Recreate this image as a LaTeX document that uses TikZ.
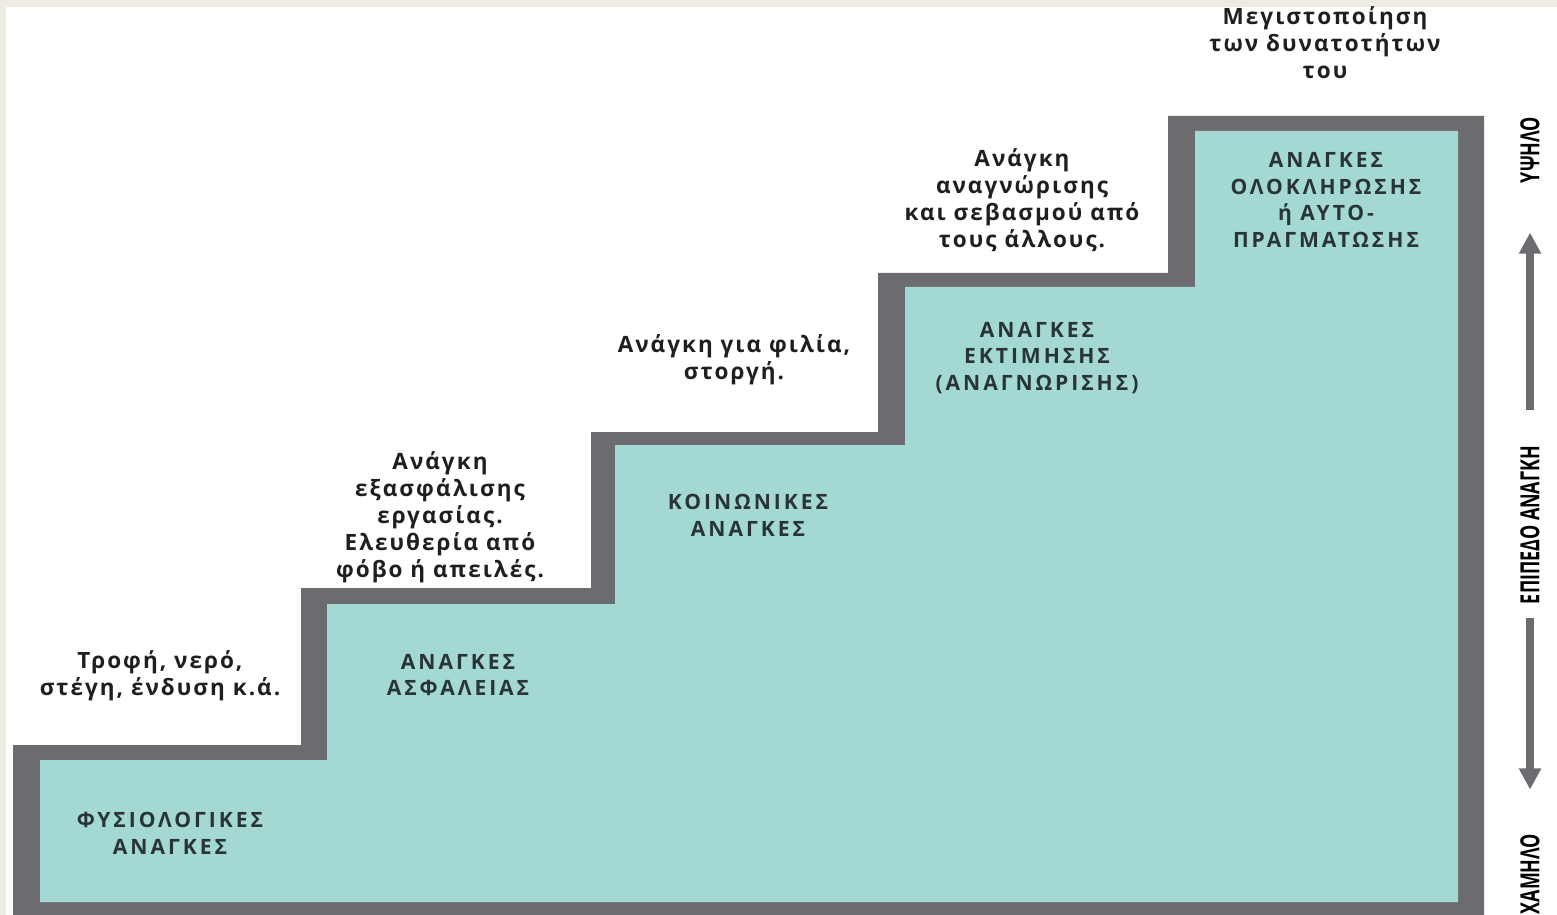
\documentclass[tikz,border=0pt]{standalone}
\usepackage{fontspec}
\usepackage{graphicx}
\usetikzlibrary{arrows.meta}
\setmainfont{Open Sans}
\newfontfamily\capsfont{Open Sans}[LetterSpace=14]
\newfontfamily\descfont{Open Sans}[LetterSpace=9]
\definecolor{stairgray}{RGB}{108,108,112}
\definecolor{stairfill}{RGB}{164,216,210}
\definecolor{framebeige}{RGB}{238,235,224}
\definecolor{needtext}{RGB}{40,52,54}
\newcommand{\lvltext}[1]{\scalebox{0.68}[1]{#1}}

\begin{document}
\begin{tikzpicture}[
    x=0.02cm, y=-0.02cm,
    need/.style={
      align=center, inner sep=0pt, text=needtext,
      font=\capsfont\bfseries\fontsize{12}{15.3}\selectfont
    },
    desc/.style={
      align=center, inner sep=0pt, text=black!88,
      font=\descfont\bfseries\fontsize{12.8}{15.3}\selectfont
    },
    lvl/.style={
      rotate=90, inner sep=0pt, text=black,
      font=\bfseries\fontsize{15}{18}\selectfont
    },
    arr/.style={-{Triangle[length=12pt, width=12pt]}, line width=4.5pt, stairgray},
  ]
    \useasboundingbox (0,0) rectangle (1557,915);
    \fill[framebeige] (0,0) rectangle (1557,915);
    \fill[white] (6,7) rectangle (1557,915);

    % staircase
    \fill[stairgray] (13,745) -| (301,588) -| (591,432) -| (878,273)
      -| (1168,116) -| (1484,915) -- (13,915) -- cycle;
    \fill[stairfill] (40,760) -| (327,604) -| (615,445) -| (905,287)
      -| (1195,131) -| (1458,902) -- (40,902) -- cycle;

    \node[need] (phys) at (170,833) {%
      ΦΥΣΙΟΛΟΓΙΚΕΣ\\
      ΑΝΑΓΚΕΣ
    };
    \node[need] (safe) at (458,675) {%
      ΑΝΑΓΚΕΣ\\
      ΑΣΦΑΛΕΙΑΣ
    };
    \node[need] (soc) at (748,515) {%
      ΚΟΙΝΩΝΙΚΕΣ\\
      ΑΝΑΓΚΕΣ
    };
    \node[need] (est) at (1037,358) {%
      ΑΝΑΓΚΕΣ\\
      ΕΚΤΙΜΗΣΗΣ\\
      (ΑΝΑΓΝΩΡΙΣΗΣ)
    };
    \node[need] (act) at (1326,200) {%
      ΑΝΑΓΚΕΣ\\
      ΟΛΟΚΛΗΡΩΣΗΣ\\
      ή ΑΥΤΟ-\\
      ΠΡΑΓΜΑΤΩΣΗΣ
    };

    \node[desc] (food) at (160,676) {%
      Τροφή, νερό,\\
      στέγη, ένδυση κ.ά.
    };
    \node[desc] (work) at (440,517) {%
      Ανάγκη\\
      εξασφάλισης\\
      εργασίας.\\
      Ελευθερία από\\
      φόβο ή απειλές.
    };
    \node[desc] (love) at (734,360) {%
      Ανάγκη για φιλία,\\
      στοργή.
    };
    \node[desc] (resp) at (1022,200) {%
      Ανάγκη\\
      αναγνώρισης\\
      και σεβασμού από\\
      τους άλλους.
    };
    \node[desc] (peak) at (1325,43) {%
      Μεγιστοποίηση\\
      των δυνατοτήτων\\
      του
    };

    % side scale
    \node[lvl] (high) at (1530,150) {\lvltext{ΥΨΗΛΟ}};
    \node[lvl] (level) at (1530,525) {\lvltext{ΕΠΙΠΕΔΟ ΑΝΑΓΚΗ}};
    \node[lvl] (low) at (1530,874) {\lvltext{ΧΑΜΗΛΟ}};
    \draw[arr, shorten <=20pt, shorten >=28pt] (level.east) -- (high.west);
    \draw[arr, shorten <=8pt, shorten >=25pt] (level.west) -- (low.east);
  \end{tikzpicture}
\end{document}
